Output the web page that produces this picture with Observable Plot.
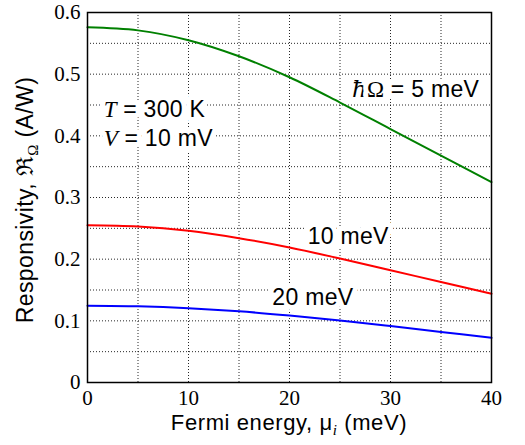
<!DOCTYPE html>
<html><head><meta charset="utf-8">
<script src="https://cdn.jsdelivr.net/npm/d3@7"></script>
<script src="https://cdn.jsdelivr.net/npm/@observablehq/plot@0.6"></script>
<style>body{margin:0;background:#fff}</style>
</head><body><div id="chart"></div>
<script>
// Fermi energy (meV)
const fermi = [0, 5, 10, 15, 20, 25, 30, 35, 40];
// Responsivity (A/W) for hbar*Omega = 5, 10, 20 meV
const resp5  = [0.576, 0.571, 0.555, 0.529, 0.495, 0.454, 0.411, 0.368, 0.325];
const resp10 = [0.255, 0.253, 0.246, 0.234, 0.219, 0.201, 0.182, 0.163, 0.144];
const resp20 = [0.1245, 0.1235, 0.1205, 0.1155, 0.1085, 0.1005, 0.0915, 0.082, 0.0725];

const xTicks = [0, 10, 20, 30, 40];
const yTicks = [0, 0.1, 0.2, 0.3, 0.4, 0.5, 0.6];
const xGrid = [5, 10, 15, 20, 25, 30, 35];
const yGrid = [0.05, 0.1, 0.15, 0.2, 0.25, 0.3, 0.35, 0.4, 0.45, 0.5, 0.55];

// annotations
const annotSym  = ["T", "V", "ħΩ", "", ""];
const annotRest = [" = 300 K", " = 10 mV", " = 5 meV", "10 meV", "20 meV"];
const annotX    = [1.6, 1.6, 26.2, 21.8, 18.3];
const annotY    = [0.443, 0.396, 0.475, 0.237, 0.138];

const xLabel = ["Fermi energy, μ", "i", " (meV)"];
const yLabel = ["Responsivity, ", "ℜ", "Ω", " (A/W)"];

const mk = (ys) => fermi.map((x, i) => ({x, y: ys[i]}));
const annots = annotRest.map((r, i) => ({x: annotX[i], y: annotY[i], sym: annotSym[i], rest: r}));

const sans = '"Liberation Sans", Arial, sans-serif';
const serif = '"Liberation Serif", "Times New Roman", serif';

const chart = Plot.plot({
  width: 525, height: 445,
  marginLeft: 87, marginRight: 34, marginTop: 12, marginBottom: 63,
  style: {fontFamily: serif, fontSize: "21px", background: "white", color: "black", overflow: "visible"},
  x: {domain: [0, 40]},
  y: {domain: [0, 0.6]},
  marks: [
    Plot.ruleX(xGrid, {stroke: "#000", strokeOpacity: 0.85, strokeDasharray: "1,2"}),
    Plot.ruleY(yGrid, {stroke: "#000", strokeOpacity: 0.85, strokeDasharray: "1,2"}),
    Plot.line(mk(resp5),  {x: "x", y: "y", stroke: "#008000", strokeWidth: 2, curve: "catmull-rom"}),
    Plot.line(mk(resp10), {x: "x", y: "y", stroke: "#ff0000", strokeWidth: 2, curve: "catmull-rom"}),
    Plot.line(mk(resp20), {x: "x", y: "y", stroke: "#0000ff", strokeWidth: 2, curve: "catmull-rom"}),
    Plot.text(annots, {x: "x", y: "y", text: d => d.sym + d.rest, textAnchor: "start", lineAnchor: "middle",
      fontFamily: sans, fontSize: 23, fill: "black", stroke: "white", strokeWidth: 10,
      strokeLinejoin: "round", paintOrder: "stroke"}),
    Plot.frame({stroke: "#000", strokeWidth: 1.5}),
    Plot.axisX({ticks: xTicks, tickSize: 0, tickPadding: 8, label: null, fontSize: 21, tickFormat: d => String(d)}),
    Plot.axisY({ticks: yTicks, tickSize: 0, tickPadding: 7, label: null, fontSize: 21, tickFormat: d => d === 0 ? "0" : d.toFixed(1)})
  ]
});
document.getElementById("chart").appendChild(chart);

const svg = d3.select(chart);
// rich annotation text
const italic = new Set(["T", "V", "ħ"]);
svg.selectAll('g[aria-label="text"] text').each(function(_, i) {
  const a = annots[i];
  if (!a) return;
  const t = d3.select(this);
  t.text(null);
  for (const ch of a.sym) {
    t.append("tspan")
      .attr("font-family", ch === "ħ" ? '"DejaVu Serif", serif' : serif)
      .attr("font-style", italic.has(ch) ? "italic" : "normal").text(ch);
  }
  t.append("tspan").attr("letter-spacing", 0.3).text(a.rest);
});

const xr = chart.scale("x").range;
const yr = chart.scale("y").range;
// x axis label
const xl = svg.append("text")
  .attr("x", (xr[0] + xr[1]) / 2).attr("y", 430)
  .attr("text-anchor", "middle").attr("font-family", sans).attr("font-size", 22)
  .attr("letter-spacing", 0.6).attr("fill", "black");
xl.append("tspan").text(xLabel[0]);
xl.append("tspan").attr("font-family", serif).attr("font-style", "italic").attr("font-size", 15).attr("dy", 5).text(xLabel[1]);
xl.append("tspan").attr("dy", -5).text(xLabel[2]);
// y axis label
const yc = (yr[0] + yr[1]) / 2 + 3;
const yl = svg.append("text")
  .attr("transform", `translate(33,${yc}) rotate(-90)`)
  .attr("text-anchor", "middle").attr("font-family", sans).attr("font-size", 23)
  .attr("letter-spacing", 0.4).attr("fill", "black");
yl.append("tspan").text(yLabel[0]);
yl.append("tspan").attr("font-family", '"DejaVu Serif", "Liberation Serif", serif').text(yLabel[1]);
yl.append("tspan").attr("font-family", serif).attr("font-size", 15).attr("dy", 5).text(yLabel[2]);
yl.append("tspan").attr("dy", -5).text(yLabel[3]);
</script>
</body></html>
